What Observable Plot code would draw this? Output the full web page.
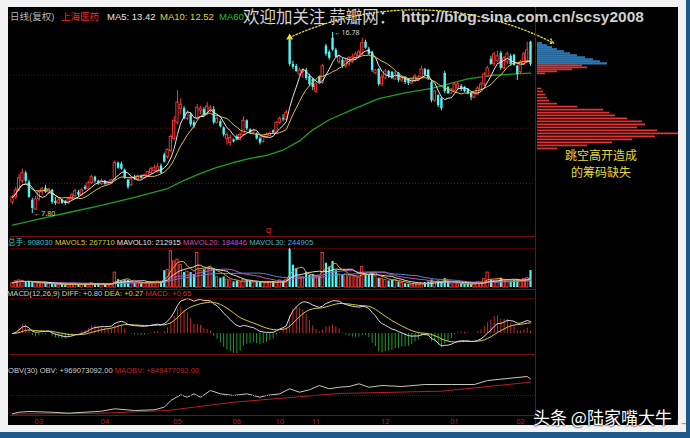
<!DOCTYPE html>
<html>
<head>
<meta charset="utf-8">
<script src="https://cdn.jsdelivr.net/npm/d3@7"></script>
<script src="https://cdn.jsdelivr.net/npm/@observablehq/plot@0.6"></script>
<style>
  body { margin: 0; background: #f2f2f2; }
  #wrap { position: relative; width: 690px; height: 438px; overflow: hidden; background: #f2f2f2;
          font-family: "Liberation Sans", Arial, "Noto Sans CJK SC", sans-serif; }
  #screen { position: absolute; left: 8px; top: 7px; width: 670px; height: 418px; background: #000; }
  #rbar { position: absolute; left: 686px; top: 0; width: 4px; height: 438px; background: #1c5a8c; }
  #bbar { position: absolute; left: 0; top: 432px; width: 690px; height: 6px; background: #1c5a8c; }
  .layer { position: absolute; left: 0; }
  .layer svg { overflow: visible; }
  .sep { position: absolute; background: #7a0e0e; }
  .grid { position: absolute; border-top: 1px dotted #5a0c0c; height: 0; }
  .t { position: absolute; white-space: nowrap; line-height: 1; }
</style>
</head>
<body>
<div id="wrap">
  <div id="screen"></div>
  <div id="rbar"></div>
  <div id="bbar"></div>
</div>
<script>
// ---- daily bars (adjusted prices, volume in thousand lots) ----
const open = [8.35,8.60,8.95,9.40,9.80,9.35,8.45,8.00,8.50,8.85,9.05,8.85,8.95,8.40,8.30,8.45,8.40,8.30,8.50,8.65,
  8.85,8.70,9.10,9.00,9.30,9.60,9.40,9.25,9.40,9.25,9.30,9.45,10.30,10.25,9.95,9.45,9.20,9.60,9.50,9.65,
  9.55,9.65,9.80,9.90,9.85,10.15,10.70,10.60,10.90,11.50,12.30,13.00,13.00,12.50,12.70,12.30,12.50,12.90,12.95,12.70,
  12.90,12.95,12.30,12.35,12.05,11.50,11.30,11.45,11.60,11.45,11.70,12.40,11.95,11.80,11.75,11.50,11.35,11.55,11.65,11.90,
  11.80,12.30,12.50,12.45,16.40,15.20,15.10,14.70,14.80,14.90,14.60,14.45,13.85,14.55,14.30,16.10,15.80,16.50,15.90,15.30,
  15.40,15.10,15.20,15.30,15.50,15.60,15.70,16.30,15.95,15.80,14.75,14.95,14.20,14.50,14.85,14.80,14.45,14.75,14.40,14.55,
  14.45,14.25,14.35,14.40,14.55,14.95,14.90,14.30,13.40,13.65,13.50,14.75,14.05,13.75,13.90,14.00,14.10,14.05,13.95,13.75,
  13.55,13.70,13.95,14.20,14.60,15.45,15.20,15.35,15.75,15.00,15.30,15.60,15.65,15.10,14.80,15.20,15.30,16.30];
const high = [8.70,9.10,9.75,10.00,9.90,9.45,8.55,8.65,8.95,9.10,9.20,9.05,9.00,8.60,8.55,8.50,8.45,8.60,8.80,9.00,
  8.95,9.05,9.20,9.40,9.70,9.65,9.45,9.50,9.45,9.40,9.50,10.40,10.35,10.35,10.00,9.50,9.55,9.70,9.70,9.70,
  9.75,9.90,10.10,10.20,10.30,10.25,10.80,11.00,11.70,12.60,13.90,13.50,13.10,12.90,12.80,12.40,13.20,13.10,13.05,13.30,
  13.15,13.10,12.60,12.45,12.10,11.80,11.70,11.50,11.70,11.80,12.60,12.45,12.00,11.95,11.80,11.60,11.65,11.80,11.85,11.95,
  12.35,12.60,12.70,12.90,16.45,15.35,15.20,15.00,14.95,15.00,14.70,14.50,14.30,14.60,15.20,16.20,15.90,16.78,16.00,15.70,
  15.50,15.50,15.60,15.70,15.80,15.90,16.50,16.40,16.05,15.85,14.95,15.00,14.70,14.95,14.90,14.85,14.85,14.80,14.60,14.60,
  14.50,14.50,14.70,14.65,15.10,15.00,14.95,14.40,13.90,13.70,13.55,14.85,14.10,14.00,14.30,14.30,14.20,14.10,14.00,13.80,
  13.80,14.10,14.30,14.80,15.10,15.60,15.80,15.85,15.85,15.60,15.80,15.70,15.70,15.15,15.40,15.80,16.30,16.35];
const low = [8.25,8.50,8.90,9.30,9.30,8.55,7.80,7.95,8.40,8.70,8.80,8.75,8.25,8.20,8.25,8.25,8.20,8.25,8.45,8.60,
  8.60,8.65,8.95,8.95,9.25,9.30,9.20,9.20,9.20,9.20,9.25,9.40,10.00,9.95,9.50,9.00,9.15,9.45,9.45,9.50,
  9.50,9.60,9.75,9.85,9.80,9.75,10.30,10.50,10.80,11.40,12.20,12.70,12.45,12.40,12.10,12.00,12.40,12.70,12.60,12.65,
  12.80,12.20,12.25,12.05,11.60,11.20,11.15,11.30,11.40,11.40,11.65,11.90,11.75,11.70,11.45,11.20,11.30,11.50,11.60,11.75,
  11.75,12.20,12.35,12.40,15.10,14.95,14.80,14.60,14.50,14.40,14.10,13.90,13.75,14.25,14.20,15.60,15.40,15.85,15.50,15.20,
  15.00,15.00,15.10,15.25,15.40,15.50,15.65,15.95,15.65,14.80,14.70,14.10,14.10,14.45,14.50,14.45,14.40,14.30,14.30,14.20,
  14.15,14.20,14.30,14.35,14.50,14.60,14.40,13.30,13.30,13.05,12.90,13.75,13.70,13.70,13.85,13.95,13.85,13.80,13.70,13.40,
  13.50,13.65,13.90,14.10,14.55,15.15,15.10,15.30,14.90,14.95,15.20,15.10,15.10,14.40,14.75,15.15,15.25,15.10];
const close = [8.60,8.95,9.55,9.80,9.40,8.60,8.05,8.50,8.85,9.00,8.85,9.00,8.35,8.30,8.45,8.30,8.30,8.50,8.70,8.90,
  8.70,8.95,9.00,9.30,9.60,9.40,9.30,9.40,9.25,9.35,9.45,10.30,10.05,10.00,9.55,9.10,9.50,9.50,9.65,9.55,
  9.70,9.85,10.00,10.05,10.10,9.80,10.35,10.95,11.60,12.40,13.30,13.20,12.50,12.80,12.20,12.10,13.05,13.00,12.65,13.10,
  13.05,12.30,12.50,12.10,11.70,11.70,11.55,11.35,11.45,11.70,12.40,12.00,11.80,11.90,11.50,11.30,11.60,11.70,11.75,11.80,
  12.30,12.50,12.45,12.80,15.20,15.05,14.85,14.90,14.90,14.50,14.20,14.05,14.20,14.30,15.10,15.70,15.50,15.90,15.55,15.60,
  15.10,15.35,15.50,15.55,15.70,15.80,16.25,16.00,15.70,14.90,14.90,14.20,14.55,14.85,14.60,14.55,14.75,14.40,14.50,14.30,
  14.25,14.40,14.60,14.55,14.95,14.65,14.50,13.40,13.85,13.15,13.00,13.85,13.75,13.95,14.20,14.20,13.95,13.85,13.75,13.55,
  13.75,14.00,14.20,14.70,15.00,15.20,15.70,15.60,15.00,15.50,15.70,15.20,15.15,14.70,15.30,15.70,15.90,15.20];
const vol = [250,330,380,360,300,320,280,240,200,220,230,180,210,170,150,160,140,170,190,200,
  160,180,170,200,230,190,170,160,150,160,200,800,420,360,400,380,300,260,250,230,
  240,260,280,300,320,330,900,950,1950,1400,1500,1200,800,850,800,700,1850,900,950,1000,
  1050,1000,550,500,560,420,380,300,350,260,400,380,350,250,300,280,260,240,300,320,
  250,380,350,420,2100,1200,1000,600,550,800,650,700,550,600,1850,1300,1100,1400,900,700,
  650,700,600,650,550,500,1100,750,700,750,600,500,450,400,350,380,400,300,250,200,
  180,150,200,170,220,260,300,400,300,350,320,480,300,200,220,180,200,170,190,160,
  250,300,280,450,800,400,350,380,500,420,380,350,400,420,380,450,500,908];

// ---- 60-day average read at intervals (bar index, price) ----
const ma60Idx = [0, 6, 17, 27, 37, 47, 52, 57, 62, 67, 72, 77, 82, 87, 91, 96, 103, 111, 119, 127, 138, 146, 157];
const ma60Val = [7.22, 7.45, 7.85, 8.20, 8.60, 9.04, 9.44, 9.79, 10.09, 10.33, 10.53, 10.68, 10.95, 11.40, 11.95, 12.45, 12.95, 13.50, 13.78, 14.01, 14.48, 14.66, 14.76];

// ---- OBV and its 30-day average, read at intervals (bar index, million lots) ----
const obvIdx = [0,2,5,12,17,27,31,37,43,46,48,51,53,55,57,60,63,67,71,75,77,81,84,87,90,93,96,99,102,105,108,112,118,125,133,140,144,148,152,156,157];
const obvVal = [-263,-207,-182,-207,-242,-171,-87,-147,-122,-31,205,406,321,441,321,557,441,381,441,321,381,441,617,497,582,733,617,673,698,793,673,733,698,768,768,768,909,955,1004,1050,969.073092];
const maobvIdx = [0, 27, 47, 67, 99, 130, 157];
const maobvVal = [-270, -242, -147, 145, 452, 533, 849.477092];

// ---- price grid levels ----
const priceGrid = [9.29, 12.03, 14.66];

// ---- month labels on the date axis (first bar of each month) ----
const monthIdx = [8, 28, 50, 68, 81, 92, 113, 134, 154];
const monthLab = ["03", "04", "05", "06", "10", "11", "12", "01", "02"];

// ---- chip distribution (price level, share of chips) ----
const chipPrice = [16.25,16.15,16.05,15.95,15.85,15.75,15.65,15.55,15.45,15.35,15.25,
  15.15,15.05,14.95,14.85,14.75,
  14.00,13.85,13.70,13.55,13.40,13.25,13.10,12.95,12.80,12.67,12.52,12.37,12.22,12.07,11.93,11.78,11.63,11.48,11.33,11.18,11.03];
const chipAmt = [5,10,15,20,27,33,40,48,56,63,70,
  45,50,35,20,8,
  4,6,8,10,12,20,40,66,72,78,90,105,108,100,120,141,118,95,75,50,20];

const UP = "#ff3a3a", DOWN = "#52f4f4";
const N = close.length;
const bars = close.map((c, i) => ({i, o: open[i], h: high[i], l: low[i], c, v: vol[i] * 1000, up: c >= open[i]}));
const upBars = bars.filter(d => d.up), downBars = bars.filter(d => !d.up);
const col = d => d.up ? UP : DOWN;
const X = {type: "linear", domain: [0, N - 1], range: [12, 530]};
const base = {width: 690, marginLeft: 10, marginRight: 155, marginTop: 0, marginBottom: 0,
  color: {type: "identity"}, style: {background: "transparent", overflow: "visible"}};

// MACD derived from the closes
function ema(a, n) { const k = 2 / (n + 1); let e = a[0]; return a.map((v, i) => i ? (e = k * v + (1 - k) * e) : e); }
const e12 = ema(close, 12), e26 = ema(close, 26);
const diff = close.map((_, i) => e12[i] - e26[i]);
const dea = ema(diff, 9);
const macd = diff.map((d, i) => ({i, diff: d, dea: dea[i], m: 2 * (d - dea[i])}));

const wrap = document.getElementById("wrap");
function place(svg, top) { const div = document.createElement("div"); div.className = "layer"; div.style.top = top + "px"; div.appendChild(svg); wrap.appendChild(div); }
const half = 0.34;

// ---- price panel ----
const hiI = d3.maxIndex(high), loI = d3.minIndex(low), gapI = d3.maxIndex(vol);
const lastClose = close[N - 1];
const note = [{x1: gapI, y1: high[gapI] + 0.08, x2: N + 6, y2: chipPrice[0]}];
place(Plot.plot({
  ...base, height: 236,
  x: {...X, axis: null},
  y: {domain: [7.80, 16.78], range: [213, 32], axis: null},
  marks: [
    Plot.ruleY(priceGrid, {stroke: "#6a0c0c", strokeDasharray: "1,2"}),
    Plot.line(ma60Idx.map((i, k) => ({i, v: ma60Val[k]})), {x: "i", y: "v", stroke: "#1e9e22", strokeWidth: 1.3}),
    Plot.ruleX(bars, {x: "i", y1: "l", y2: "h", stroke: col}),
    Plot.ruleX(downBars, {x: "i", y1: "o", y2: "c", stroke: DOWN, strokeWidth: 2.4}),
    Plot.rect(upBars, {x1: d => d.i - half, x2: d => d.i + half, y1: "o", y2: "c", fill: "#000", stroke: UP, strokeWidth: 0.9}),
    Plot.lineY(bars, Plot.windowY({k: 10, anchor: "end"}, {x: "i", y: "c", stroke: "#d9c43c", strokeWidth: 1})),
    Plot.lineY(bars, Plot.windowY({k: 5, anchor: "end"}, {x: "i", y: "c", stroke: "#e4e4e4", strokeWidth: 1})),
    Plot.text([bars[hiI]], {x: "i", y: "h", text: d => "\u2190" + d.h.toFixed(2), textAnchor: "start", dx: 2, fill: "#d8d8d8", fontSize: 7}),
    Plot.text([bars[loI]], {x: "i", y: "l", text: d => "\u2190" + d.l.toFixed(2), textAnchor: "start", dx: 2, fill: "#d8d8d8", fontSize: 7}),
    Plot.arrow(note, {x1: "x1", y1: "y1", x2: "x2", y2: "y2", bend: 26, stroke: "#e8df3c", strokeWidth: 1.3, strokeDasharray: "1.5,2", headLength: 6}),
    Plot.dot(note, {x: "x1", y: "y1", symbol: "triangle", r: 2.6, fill: "#e8df3c"})
  ]
}), 0);

// ---- chip distribution beside the price panel ----
const chips = chipPrice.map((p, k) => ({p, a: chipAmt[k]}));
place(Plot.plot({
  width: 690, height: 232, margin: 0, color: {type: "identity"},
  style: {background: "transparent", overflow: "visible"},
  x: {domain: [0, 143], range: [537, 680], axis: null},
  y: {domain: [7.80, 16.78], range: [213, 32], axis: null},
  marks: [
    Plot.ruleY(chips, {y: "p", x1: 0, x2: "a", stroke: d => d.p > lastClose ? "#2a78b4" : "#e33434", strokeWidth: d => d.p > lastClose ? 2.2 : 1.7})
  ]
}), 0);

// ---- volume panel ----
place(Plot.plot({
  ...base, height: 57,
  x: {...X, axis: null},
  y: {domain: [0, 2200000], range: [54, 13], axis: null},
  marks: [
    Plot.ruleX(downBars, {x: "i", y1: 0, y2: "v", stroke: DOWN, strokeWidth: 2.2}),
    Plot.rect(upBars, {x1: d => d.i - half, x2: d => d.i + half, y1: 0, y2: "v", fill: "#000", stroke: UP, strokeWidth: 0.9}),
    Plot.lineY(bars, Plot.windowY({k: 30, anchor: "end"}, {x: "i", y: "v", stroke: "#4c8fd0", strokeWidth: 1})),
    Plot.lineY(bars, Plot.windowY({k: 20, anchor: "end"}, {x: "i", y: "v", stroke: "#c054c0", strokeWidth: 1})),
    Plot.lineY(bars, Plot.windowY({k: 10, anchor: "end"}, {x: "i", y: "v", stroke: "#dedede", strokeWidth: 1})),
    Plot.lineY(bars, Plot.windowY({k: 5, anchor: "end"}, {x: "i", y: "v", stroke: "#e0a830", strokeWidth: 1}))
  ]
}), 233);

// ---- MACD panel ----
const mMax = d3.max(macd, d => Math.max(d.diff, d.dea, d.m));
place(Plot.plot({
  ...base, height: 64,
  x: {...X, axis: null},
  y: {domain: [-0.6 * mMax, mMax], range: [64, 8], axis: null},
  marks: [
    Plot.ruleX(macd, {x: "i", y1: 0, y2: "m", stroke: d => d.m >= 0 ? "#c42a2a" : "#1f9c2c", strokeWidth: 1}),
    Plot.line(macd, {x: "i", y: "dea", stroke: "#d8cc3c", strokeWidth: 1}),
    Plot.line(macd, {x: "i", y: "diff", stroke: "#d8d8e8", strokeWidth: 1})
  ]
}), 290);

// ---- OBV panel with the date axis ----
const monthName = new Map(monthIdx.map((d, k) => [d, monthLab[k]]));
place(Plot.plot({
  ...base, height: 72, marginBottom: 12,
  x: X,
  y: {domain: [-263, 969.073092], range: [58.3, 23.3], axis: null},
  marks: [
    Plot.line(maobvIdx.map((i, k) => ({i, v: maobvVal[k]})), {x: "i", y: "v", stroke: "#b32020", strokeWidth: 1}),
    Plot.line(obvIdx.map((i, k) => ({i, v: obvVal[k]})), {x: "i", y: "v", stroke: "#c8c8b8", strokeWidth: 1}),
    Plot.axisX({ticks: monthIdx, tickFormat: d => monthName.get(d), tickSize: 0, tickPadding: 3, fill: "#b42626", fontSize: 7.5, anchor: "bottom"})
  ]
}), 355);

// ---- panel separators and grid ----
function sep(l, t, w, h) { const d = document.createElement("div"); d.className = "sep"; Object.assign(d.style, {left: l + "px", top: t + "px", width: w + "px", height: h + "px"}); wrap.appendChild(d); }
function grid(t) { const d = document.createElement("div"); d.className = "grid"; Object.assign(d.style, {left: "10px", top: t + "px", width: "525px"}); wrap.appendChild(d); }
sep(535, 7, 1, 418);
sep(10, 236, 525, 1);
sep(10, 289, 525, 1);
sep(10, 354, 525, 1);
sep(10, 415, 525, 1);
grid(248);
grid(298);
grid(395);

// ---- texts ----
function txt(html, l, t, css) { const d = document.createElement("div"); d.className = "t"; d.innerHTML = html; d.style.left = l + "px"; d.style.top = t + "px"; if (css) d.style.cssText += css; wrap.appendChild(d); }
txt('<span style="color:#b8b8b8">日线(复权)</span>', 10, 12, "font-size:9.5px");
txt('<span style="color:#e03030">上海医药</span>', 61, 12, "font-size:9.5px");
txt('<span style="color:#e6e6e6">MA5: 13.42</span>', 107, 12, "font-size:9.5px");
txt('<span style="color:#e0d040">MA10: 12.52</span>', 160, 12, "font-size:9.5px");
txt('<span style="color:#20c020">MA60</span>', 219, 12, "font-size:9.5px");
txt("欢迎加关注 蒜瓣网：", 243, 8, "font-size:16.5px;color:#d4d4d4;font-family:'Noto Sans CJK SC'");
txt("http://blog.sina.com.cn/scsy2008", 401, 9, "font-size:15.5px;font-weight:bold;color:#cfcfcf");
txt('<span style="color:#3cc0c0">总手: 908030</span> <span style="color:#d4d030">MAVOL5: 267710</span> <span style="color:#e0e0e0">MAVOL10: 212915</span> <span style="color:#c050c0">MAVOL20: 184846</span> <span style="color:#4cb4c8">MAVOL30: 244905</span>', 8, 239, "font-size:7.6px");
txt('<span style="color:#d0d0d0">MACD(12,26,9) DIFF: +0.80</span> <span style="color:#e0d040">DEA: +0.27</span> <span style="color:#d03030">MACD: +0.65</span>', 7, 290, "font-size:7.6px");
txt('<span style="color:#d0d0d0">OBV(30) OBV: +969073092.00</span> <span style="color:#c02828">MAOBV: +849477092.00</span>', 8, 367, "font-size:7.6px");
txt('<span style="color:#d02a2a">q</span>', 266, 226, "font-size:9px");
txt("跳空高开造成", 565, 149, "font-size:12px;color:#e6dc3a;font-family:'Noto Sans CJK SC'");
txt("的筹码缺失", 571, 166, "font-size:12px;color:#e6dc3a;font-family:'Noto Sans CJK SC'");
txt("头条 @陆家嘴大牛", 533, 408, "font-size:17px;color:#fff;font-family:'Noto Sans CJK SC';text-shadow:0 0 2px #000,0 0 2px #000");
</script>
</body>
</html>
